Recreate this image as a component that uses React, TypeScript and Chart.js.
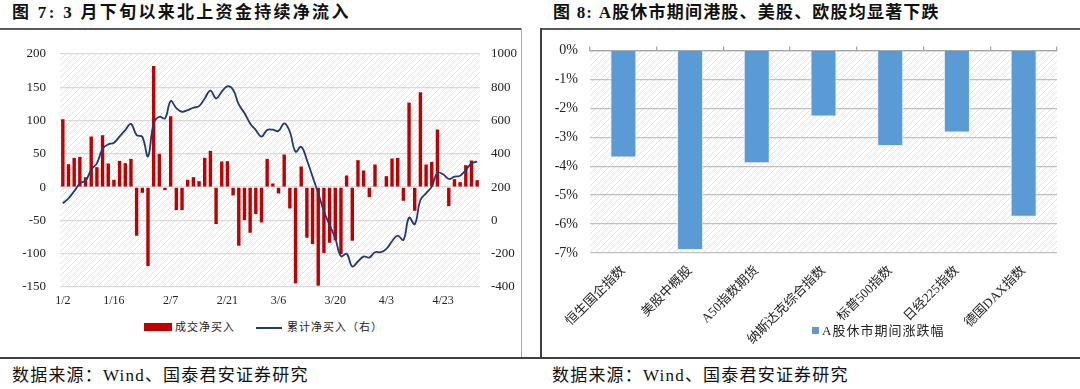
import React, { useEffect, useRef } from "react";
import { Chart, registerables } from "chart.js";

Chart.register(...registerables);

// ---------- Figure 7 data ----------
const dates = [
  "1/2", "1/3", "1/6", "1/7", "1/8", "1/9", "1/10", "1/13", "1/14", "1/15",
  "1/16", "1/17", "1/20", "1/21", "1/22", "1/23", "2/3", "2/4", "2/5", "2/6",
  "2/7", "2/10", "2/11", "2/12", "2/13", "2/14", "2/17", "2/18", "2/19", "2/20",
  "2/21", "2/24", "2/25", "2/26", "2/27", "2/28", "3/2", "3/3", "3/4", "3/5",
  "3/6", "3/9", "3/10", "3/11", "3/12", "3/13", "3/16", "3/17", "3/18", "3/19",
  "3/20", "3/23", "3/24", "3/25", "3/26", "3/27", "3/30", "3/31", "4/1", "4/2",
  "4/3", "4/7", "4/8", "4/9", "4/14", "4/15", "4/16", "4/17", "4/20", "4/21",
  "4/22", "4/23", "4/24", "4/27",
];

// 成交净买入 (left axis)
const netBuy = [
  102, 34.5, 44, 45.5, 15, 76, 30, 78, 35.5, 11,
  39.5, 36, 42.5, -73, -8.5, -118.5, 182, 50, -4.5, 106.5,
  -34.5, -34.5, 11, 15, 9, 44, 54.5, -55.5, 38.5, 39,
  -12.5, -88, -49.5, -68.5, -40.5, -53, 42.5, 5.5, -9.5, 49,
  -32, -144.5, 31, -76, -85.5, -148, -99, -83.5, -80, -100.5,
  17.5, -80.5, 40.5, 25, -15, 34, -1, 16.5, 43, 44,
  -20.5, 127, -35.5, 142.5, 34, 38, 86.5, 1, -28.5, 12,
  7.5, 33, 40, 10.5,
];

// 累计净买入（右）(right axis)
const cumNetBuy = [
  103, 133, 175, 223, 238, 305, 343, 430, 457, 467,
  505, 543, 580, 513, 503, 385, 583, 623, 613, 717,
  675, 653, 663, 677, 687, 733, 780, 733, 773, 806,
  785, 697, 645, 583, 543, 503, 543, 545, 537, 583,
  533, 413, 443, 363, 263, 163, 55, -27, -107, -215,
  -200, -277, -247, -217, -223, -191, -191, -171, -125, -91,
  -117, 17, -23, 123, 163, 203, 287, 277, 249, 263,
  269, 303, 343, 353,
];

const xTickLabels = ["1/2", "1/16", "2/7", "2/21", "3/6", "3/20", "4/3", "4/23"];
const xTickIndex = [0, 9, 19, 29, 38, 48, 57, 67];

// ---------- Figure 8 data ----------
const indexNames = [
  "恒生国企指数",
  "美股中概股",
  "A50指数期货",
  "纳斯达克综合指数",
  "标普500指数",
  "日经225指数",
  "德国DAX指数",
];
const indexChange = [-3.7, -6.9, -3.9, -2.28, -3.3, -2.84, -5.75];

const SERIF = "'Liberation Serif', 'Times New Roman', 'Noto Sans CJK SC', serif";
const CJK = "'Liberation Serif', 'Noto Sans CJK SC', serif";

function makeHatch(ctx: CanvasRenderingContext2D) {
  const c = document.createElement("canvas");
  c.width = 6;
  c.height = 6;
  const g = c.getContext("2d")!;
  g.strokeStyle = "#e2e2e2";
  g.lineWidth = 1;
  g.beginPath();
  g.moveTo(0, 6);
  g.lineTo(6, 0);
  g.moveTo(-1, 1);
  g.lineTo(1, -1);
  g.moveTo(5, 7);
  g.lineTo(7, 5);
  g.stroke();
  return ctx.createPattern(c, "repeat");
}

const hatchPlugin = {
  id: "hatchBg",
  beforeDraw(chart: any) {
    const { ctx, chartArea: a } = chart;
    ctx.save();
    const p = makeHatch(ctx);
    if (p) ctx.fillStyle = p;
    ctx.fillRect(a.left, a.top, a.right - a.left, a.bottom - a.top);
    ctx.restore();
  },
};

export default function App() {
  const leftRef = useRef<HTMLCanvasElement>(null);
  const rightRef = useRef<HTMLCanvasElement>(null);

  useEffect(() => {
    const c1 = new Chart(leftRef.current!, {
      type: "bar",
      data: {
        labels: dates,
        datasets: [
          {
            type: "line",
            label: "累计净买入（右）",
            data: cumNetBuy,
            yAxisID: "y1",
            borderColor: "#1F3A77",
            borderWidth: 1.8,
            pointRadius: 0,
            tension: 0.4,
            fill: false,
            order: 0,
          } as any,
          {
            type: "bar",
            label: "成交净买入",
            data: netBuy,
            yAxisID: "y",
            backgroundColor: "#C00000",
            categoryPercentage: 1,
            barPercentage: 0.6,
            order: 1,
          },
        ],
      },
      options: {
        responsive: false,
        animation: false,
        devicePixelRatio: 1,
        layout: { padding: { top: 24, left: 0, right: 0, bottom: 0 } },
        plugins: { legend: { display: false }, tooltip: { enabled: false } },
        scales: {
          x: {
            type: "category",
            grid: { display: false, drawTicks: false },
            border: { display: false },
            ticks: {
              autoSkip: false,
              maxRotation: 0,
              minRotation: 0,
              padding: 7,
              color: "#222",
              font: { family: SERIF, size: 12 },
              callback: (_v: any, i: number) => {
                const k = xTickIndex.indexOf(i);
                return k >= 0 ? xTickLabels[k] : "";
              },
            },
            afterFit: (s: any) => {
              s.height = 23;
            },
          },
          y: {
            position: "left",
            min: -150,
            max: 200,
            ticks: {
              stepSize: 50,
              padding: 14,
              color: "#222",
              font: { family: SERIF, size: 13 },
              callback: (v: any) => String(v),
            },
            grid: { color: "#D9D9D9", lineWidth: 1.3, drawTicks: false },
            border: { display: false },
            afterFit: (s: any) => {
              s.width = 60;
            },
          },
          y1: {
            position: "right",
            min: -400,
            max: 1000,
            ticks: {
              stepSize: 200,
              padding: 11,
              color: "#222",
              font: { family: SERIF, size: 13 },
              callback: (v: any) => String(v),
            },
            grid: { display: false, drawTicks: false },
            border: { display: false },
            afterFit: (s: any) => {
              s.width = 41;
            },
          },
        },
      },
      plugins: [hatchPlugin],
    } as any);

    const c2 = new Chart(rightRef.current!, {
      type: "bar",
      data: {
        labels: indexNames,
        datasets: [
          {
            label: "A股休市期间涨跌幅",
            data: indexChange,
            backgroundColor: "#5B9BD5",
            borderColor: "#E3EEF9",
            borderWidth: 1,
            categoryPercentage: 1,
            barPercentage: 0.39,
          },
        ],
      },
      options: {
        responsive: false,
        animation: false,
        devicePixelRatio: 1,
        layout: { padding: { top: 12, left: 0, right: 23, bottom: 0 } },
        plugins: { legend: { display: false }, tooltip: { enabled: false } },
        scales: {
          x: {
            position: "bottom",
            grid: { display: false, drawTicks: false },
            border: { display: false },
            ticks: {
              autoSkip: false,
              maxRotation: 45,
              minRotation: 45,
              padding: 10,
              color: "#222",
              font: { family: CJK, size: 13 },
            },
            afterFit: (s: any) => {
              s.height = 97;
            },
          },
          x2: {
            type: "category",
            position: "top",
            labels: indexNames,
            offset: true,
            grid: {
              offset: true,
              drawOnChartArea: false,
              drawTicks: true,
              tickLength: 4,
              color: "#A6A6A6",
              lineWidth: 1.3,
            },
            border: { display: true, color: "#A6A6A6", width: 1.3 },
            ticks: { display: false },
            afterFit: (s: any) => {
              s.height = 4;
            },
          },
          y: {
            min: -7,
            max: 0,
            ticks: {
              stepSize: 1,
              padding: 12,
              color: "#222",
              font: { family: SERIF, size: 14 },
              callback: (v: any) => `${v}%`,
            },
            grid: { color: "#BFBFBF", lineWidth: 1.3, drawTicks: false },
            border: { display: false },
            afterFit: (s: any) => {
              s.width = 48;
            },
          },
        },
      },
      plugins: [hatchPlugin],
    } as any);

    return () => {
      c1.destroy();
      c2.destroy();
    };
  }, []);

  const titleStyle: React.CSSProperties = {
    position: "absolute",
    top: 3,
    fontFamily: "'Liberation Serif', 'Noto Sans CJK SC', serif",
    fontWeight: 700,
    fontSize: 17,
    lineHeight: "20px",
    letterSpacing: "2.3px",
    color: "#111",
    whiteSpace: "nowrap",
  };
  const sourceStyle: React.CSSProperties = {
    position: "absolute",
    top: 366,
    fontFamily: "'Liberation Serif', 'Noto Sans CJK SC', serif",
    fontSize: 17,
    lineHeight: "20px",
    letterSpacing: "1.2px",
    color: "#111",
    whiteSpace: "nowrap",
  };
  const legendText: React.CSSProperties = {
    position: "absolute",
    fontFamily: "'Liberation Serif', 'Noto Sans CJK SC', serif",
    fontSize: 11,
    lineHeight: "14px",
    letterSpacing: "1px",
    color: "#222",
    whiteSpace: "nowrap",
  };

  return (
    <div
      style={{
        position: "fixed",
        left: 0,
        top: 0,
        width: 1080,
        height: 389,
        background: "#fff",
        overflow: "hidden",
      }}
    >
      {/* titles */}
      <div style={{ ...titleStyle, left: 12 }}>图 7: 3 月下旬以来北上资金持续净流入</div>
      <div style={{ ...titleStyle, left: 553, letterSpacing: "1.2px" }}>图 8: A股休市期间港股、美股、欧股均显著下跌</div>

      {/* frame lines */}
      <div style={{ position: "absolute", left: 0, top: 28, width: 521, height: 2, background: "#595959" }} />
      <div style={{ position: "absolute", left: 541, top: 28, width: 539, height: 2, background: "#595959" }} />
      <div style={{ position: "absolute", left: 521, top: 28, width: 1, height: 330, background: "#A6A6A6" }} />
      <div style={{ position: "absolute", left: 540, top: 28, width: 2, height: 330, background: "#404040" }} />
      <div style={{ position: "absolute", left: 0, top: 357, width: 1080, height: 2, background: "#404040" }} />

      {/* left chart */}
      <div style={{ position: "absolute", left: 0, top: 30, width: 521, height: 280 }}>
        <canvas ref={leftRef} width={521} height={280} style={{ width: 521, height: 280, display: "block" }} />
      </div>
      {/* left legend */}
      <div style={{ position: "absolute", left: 144, top: 323, width: 28, height: 8, background: "#C00000" }} />
      <div style={{ ...legendText, left: 175, top: 320 }}>成交净买入</div>
      <div style={{ position: "absolute", left: 256, top: 327, width: 26, height: 2, background: "#1F3A77" }} />
      <div style={{ ...legendText, left: 287, top: 320 }}>累计净买入（右）</div>

      {/* right chart */}
      <div style={{ position: "absolute", left: 542, top: 30, width: 538, height: 320 }}>
        <canvas ref={rightRef} width={538} height={320} style={{ width: 538, height: 320, display: "block" }} />
      </div>
      {/* right legend */}
      <div style={{ position: "absolute", left: 812, top: 327, width: 7, height: 7, background: "#5B9BD5" }} />
      <div style={{ ...legendText, left: 822, top: 323, fontSize: 13, lineHeight: "16px" }}>A股休市期间涨跌幅</div>

      {/* sources */}
      <div style={{ ...sourceStyle, left: 12 }}>数据来源：Wind、国泰君安证券研究</div>
      <div style={{ ...sourceStyle, left: 552 }}>数据来源：Wind、国泰君安证券研究</div>
    </div>
  );
}
